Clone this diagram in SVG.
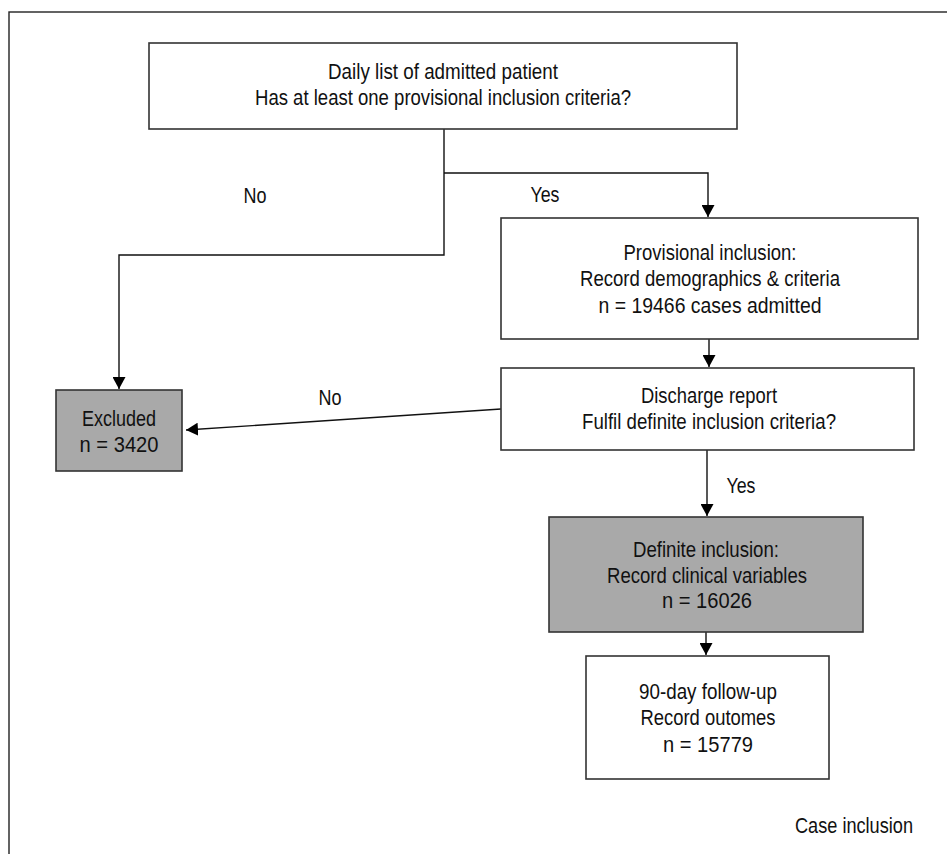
<svg xmlns="http://www.w3.org/2000/svg" width="947" height="854" viewBox="0 0 947 854">
<style>
text{font-family:"Liberation Sans",Arial,sans-serif;font-size:22px;fill:#111;}
.c{text-anchor:middle;}
.box{fill:#fff;stroke:#333;stroke-width:1.6;}
.grey{fill:#a9a9a9;stroke:#333;stroke-width:1.6;}
.ln{fill:none;stroke:#111;stroke-width:1.4;}
</style>
<defs>
<marker id="ah" markerUnits="userSpaceOnUse" markerWidth="13" markerHeight="13" refX="12" refY="6.5" orient="auto">
<path d="M0,0 L12,6.5 L0,13 z" fill="#000"/>
</marker>
</defs>
<rect x="9" y="12" width="960" height="900" fill="none" stroke="#222" stroke-width="1.4"/>
<g id="connectors">
<polyline class="ln" points="444,129 444,255 119,255 119,389" marker-end="url(#ah)"/>
<polyline class="ln" points="444,173 708,173 708,217" marker-end="url(#ah)"/>
<line class="ln" x1="709" y1="339" x2="709" y2="367" marker-end="url(#ah)"/>
<line class="ln" x1="501" y1="409" x2="186" y2="430" marker-end="url(#ah)"/>
<line class="ln" x1="707" y1="450" x2="707" y2="516" marker-end="url(#ah)"/>
<line class="ln" x1="706" y1="632" x2="706" y2="655" marker-end="url(#ah)"/>
<text class="c" x="255" y="203" textLength="23" lengthAdjust="spacingAndGlyphs">No</text>
<text class="c" x="545" y="202" textLength="29" lengthAdjust="spacingAndGlyphs">Yes</text>
<text class="c" x="330" y="405" textLength="23" lengthAdjust="spacingAndGlyphs">No</text>
<text class="c" x="741" y="493" textLength="29" lengthAdjust="spacingAndGlyphs">Yes</text>
</g>
<g id="n_daily">
<rect class="box" x="149" y="43" width="588" height="86"/>
<text class="c" x="443" y="79" textLength="230" lengthAdjust="spacingAndGlyphs">Daily list of admitted patient</text>
<text class="c" x="443" y="105" textLength="376" lengthAdjust="spacingAndGlyphs">Has at least one provisional inclusion criteria?</text>
</g>
<g id="n_provisional">
<rect class="box" x="501" y="218" width="417" height="121"/>
<text class="c" x="710" y="260" textLength="173" lengthAdjust="spacingAndGlyphs">Provisional inclusion:</text>
<text class="c" x="710" y="286" textLength="260" lengthAdjust="spacingAndGlyphs">Record demographics &amp; criteria</text>
<text class="c" x="710" y="313" textLength="223" lengthAdjust="spacingAndGlyphs">n = 19466 cases admitted</text>
</g>
<g id="n_discharge">
<rect class="box" x="501" y="368" width="413" height="82"/>
<text class="c" x="709" y="403" textLength="136" lengthAdjust="spacingAndGlyphs">Discharge report</text>
<text class="c" x="709" y="429" textLength="254" lengthAdjust="spacingAndGlyphs">Fulfil definite inclusion criteria?</text>
</g>
<g id="n_excluded">
<rect class="grey" x="56" y="390" width="126" height="81"/>
<text class="c" x="119" y="426" textLength="74" lengthAdjust="spacingAndGlyphs">Excluded</text>
<text class="c" x="119" y="452" textLength="79" lengthAdjust="spacingAndGlyphs">n = 3420</text>
</g>
<g id="n_definite">
<rect class="grey" x="549" y="517" width="314" height="115"/>
<text class="c" x="706" y="557" textLength="146" lengthAdjust="spacingAndGlyphs">Definite inclusion:</text>
<text class="c" x="707" y="583" textLength="200" lengthAdjust="spacingAndGlyphs">Record clinical variables</text>
<text class="c" x="707" y="608" textLength="90" lengthAdjust="spacingAndGlyphs">n = 16026</text>
</g>
<g id="n_followup">
<rect class="box" x="586" y="656" width="243" height="123"/>
<text class="c" x="708" y="699" textLength="138" lengthAdjust="spacingAndGlyphs">90-day follow-up</text>
<text class="c" x="708" y="725" textLength="135" lengthAdjust="spacingAndGlyphs">Record outomes</text>
<text class="c" x="708" y="752" textLength="90" lengthAdjust="spacingAndGlyphs">n = 15779</text>
</g>
<text x="913" y="833" text-anchor="end" textLength="118" lengthAdjust="spacingAndGlyphs">Case inclusion</text>
</svg>
